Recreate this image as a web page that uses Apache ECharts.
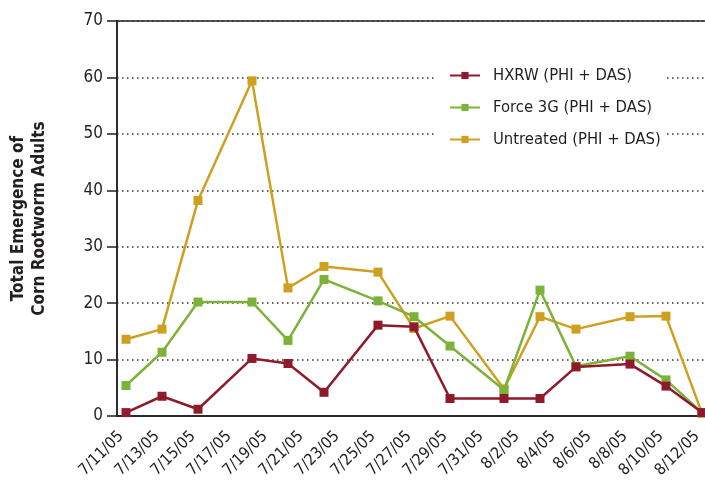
<!DOCTYPE html>
<html>
<head>
<meta charset="utf-8">
<script src="https://cdn.jsdelivr.net/npm/echarts@6/dist/echarts.min.js"></script>
<style>
    html, body { margin: 0; padding: 0; background: #fff; }
    #chart { width: 705px; height: 483px; }
</style>
</head>
<body>
<div id="chart"></div>
<script>
// sampling dates and counts
var sampleDates = ['7/11/05', '7/13/05', '7/15/05', '7/18/05', '7/20/05', '7/22/05', '7/25/05', '7/27/05',
    '7/29/05', '8/1/05', '8/3/05', '8/5/05', '8/8/05', '8/10/05', '8/12/05'];
var hxrw = [0.6, 3.5, 1.2, 10.2, 9.3, 4.2, 16.1, 15.8, 3.1, 3.1, 3.1, 8.7, 9.2, 5.3, 0.6];
var force3g = [5.4, 11.3, 20.2, 20.2, 13.4, 24.2, 20.4, 17.6, 12.4, 4.6, 22.3, 8.8, 10.6, 6.4, 0.6];
var untreated = [13.6, 15.4, 38.2, 59.4, 22.7, 26.5, 25.5, 15.5, 17.7, 4.8, 17.6, 15.4, 17.6, 17.7, 0.5];
var seriesNames = ['HXRW (PHI + DAS)', 'Force 3G (PHI + DAS)', 'Untreated (PHI + DAS)'];
var colors = ['#8e1b2b', '#7db23a', '#cfa020'];
var yMin = 0, yMax = 70, yStep = 10;

var font = '"DejaVu Sans Condensed", "Liberation Sans Narrow", sans-serif';
var ink = '#231f20';

function parseDate(s) {
    var p = s.split('/');
    return new Date(2000 + Number(p[2]), Number(p[0]) - 1, Number(p[1]));
}
function fmtDate(d) {
    return (d.getMonth() + 1) + '/' + d.getDate() + '/' + String(d.getFullYear()).slice(2);
}

// one category per calendar day, so the date axis keeps its real spacing
var days = [];
var d = parseDate(sampleDates[0]);
var last = parseDate(sampleDates[sampleDates.length - 1]);
while (d <= last) {
    days.push(fmtDate(d));
    d = new Date(d.getFullYear(), d.getMonth(), d.getDate() + 1);
}

function onDays(values) {
    return days.map(function (day) {
        var i = sampleDates.indexOf(day);
        return i < 0 ? null : values[i];
    });
}

var allValues = [hxrw, force3g, untreated];
var zs = [4, 3, 2];

var myChart = echarts.init(document.getElementById('chart'));
var option = {
    animation: false,
    grid: {
        left: 117,
        width: 594,   // last day runs past the right edge, as in the original
        top: 21,
        bottom: 67,
        outerBoundsMode: 'none',
        show: true,
        borderColor: ink,
        borderWidth: 1.5
    },
    legend: {
        orient: 'vertical',
        left: 435,
        top: 58,
        backgroundColor: '#fff',
        padding: [9, 4, 9, 14],
        itemWidth: 30,
        itemHeight: 9,
        itemGap: 15,
        textStyle: {
            fontFamily: font,
            fontSize: 16.5,
            color: ink,
            padding: [0, 0, 0, 8]
        },
        data: seriesNames
    },
    xAxis: {
        type: 'category',
        boundaryGap: true,
        data: days,
        axisLine: { lineStyle: { color: ink, width: 1.5 } },
        axisTick: { interval: 1, length: 10, lineStyle: { color: ink, width: 1.5 } },
        axisLabel: {
            interval: 1,
            rotate: 45,
            margin: 13,
            padding: [0, 7, 0, 0],
            fontFamily: font,
            fontSize: 16,
            color: ink
        },
        splitLine: { show: false }
    },
    yAxis: {
        type: 'value',
        min: yMin,
        max: yMax,
        interval: yStep,
        name: 'Total Emergence of\nCorn Rootworm Adults',
        nameLocation: 'middle',
        nameGap: 67,
        nameTextStyle: {
            fontFamily: font,
            fontSize: 17,
            fontWeight: 'bold',
            lineHeight: 21,
            color: ink
        },
        axisLine: { show: true, lineStyle: { color: ink, width: 1.5 } },
        axisTick: { show: true, length: 10, lineStyle: { color: ink, width: 1.5 } },
        axisLabel: { margin: 14, fontFamily: font, fontSize: 17, color: ink },
        splitLine: { lineStyle: { color: '#333', width: 1.5, type: [1.5, 3.5] } }
    },
    series: seriesNames.map(function (name, i) {
        return {
            name: name,
            type: 'line',
            z: zs[i],
            data: onDays(allValues[i]),
            connectNulls: true,
            symbol: 'rect',
            symbolSize: 9,
            color: colors[i],
            lineStyle: { width: 2.5, color: colors[i] },
            itemStyle: { color: colors[i] }
        };
    })
};
myChart.setOption(option);
</script>
</body>
</html>
